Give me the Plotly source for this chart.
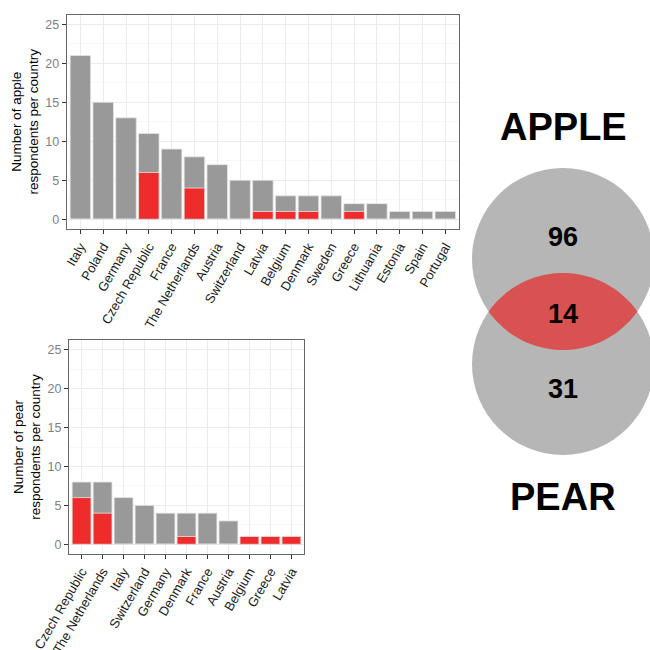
import numpy as np
import plotly.graph_objects as go

# ---------------- data ----------------
apple_countries = ["Italy", "Poland", "Germany", "Czech Republic", "France", "The Netherlands",
                   "Austria", "Switzerland", "Latvia", "Belgium", "Denmark", "Sweden", "Greece",
                   "Lithuania", "Estonia", "Spain", "Portugal"]
apple_total = [21, 15, 13, 11, 9, 8, 7, 5, 5, 3, 3, 3, 2, 2, 1, 1, 1]
apple_both = [0, 0, 0, 6, 0, 4, 0, 0, 1, 1, 1, 0, 1, 0, 0, 0, 0]

pear_countries = ["Czech Republic", "The Netherlands", "Italy", "Switzerland", "Germany",
                  "Denmark", "France", "Austria", "Belgium", "Greece", "Latvia"]
pear_total = [8, 8, 6, 5, 4, 4, 4, 3, 1, 1, 1]
pear_both = [6, 4, 0, 0, 0, 1, 0, 0, 1, 1, 1]

venn_labels = ["APPLE", "PEAR"]
venn_counts = [96, 14, 31]  # apple only, both, pear only
y_ticks = [0, 5, 10, 15, 20, 25]

GREY = "#999999"
RED = "#EE2C2C"
FONT = "Arial, Liberation Sans, sans-serif"
W = H = 650

def px(x):
    return x / W

def py(y):
    return 1 - y / H

fig = go.Figure()

bar_line = dict(color="#e6e6e6", width=0.8)
fig.add_trace(go.Bar(x=apple_countries, y=apple_total, marker=dict(color=GREY, line=bar_line),
                     width=0.9, xaxis="x", yaxis="y", showlegend=False))
fig.add_trace(go.Bar(x=apple_countries, y=apple_both, marker=dict(color=RED, line=bar_line),
                     width=0.9, xaxis="x", yaxis="y", showlegend=False))
fig.add_trace(go.Bar(x=pear_countries, y=pear_total, marker=dict(color=GREY, line=bar_line),
                     width=0.9, xaxis="x2", yaxis="y2", showlegend=False))
fig.add_trace(go.Bar(x=pear_countries, y=pear_both, marker=dict(color=RED, line=bar_line),
                     width=0.9, xaxis="x2", yaxis="y2", showlegend=False))

def xaxis(dom, n, anchor):
    return dict(domain=dom, anchor=anchor, type="category", range=[-0.6, n - 0.4],
                showgrid=True, gridcolor="#ebebeb", gridwidth=1,
                tickangle=-60, tickfont=dict(size=13, color="#1a1a1a", family=FONT),
                ticks="outside", ticklen=4, tickcolor="#333333", tickwidth=1,
                showline=True, linecolor="#666666", linewidth=1, mirror=True,
                zeroline=False, automargin=False, fixedrange=True)

def yaxis(dom, anchor, title):
    return dict(domain=dom, anchor=anchor, range=[-1.25, 26.25], tickvals=y_ticks,
                showgrid=True, gridcolor="#ebebeb", gridwidth=1,
                minor=dict(tick0=2.5, dtick=5, showgrid=True, gridcolor="#f3f3f3", gridwidth=0.6),
                tickfont=dict(size=12.5, color="#7f7f7f", family=FONT),
                ticks="outside", ticklen=4, tickcolor="#333333", tickwidth=1,
                showline=True, linecolor="#666666", linewidth=1, mirror=True,
                zeroline=False, automargin=False, fixedrange=True,
                title=dict(text=title, font=dict(size=13.5, color="#000000", family=FONT), standoff=3))

fig.update_layout(
    width=W, height=H, margin=dict(l=0, r=0, t=0, b=0),
    paper_bgcolor="white", plot_bgcolor="white",
    barmode="overlay", bargap=0.1,
    font=dict(family=FONT),
    xaxis=xaxis([px(66.7), px(459)], len(apple_countries), "y"),
    yaxis=yaxis([py(229), py(14.5)], "x", "Number of apple<br>respondents per country"),
    xaxis2=xaxis([px(69), px(304)], len(pear_countries), "y2"),
    yaxis2=yaxis([py(554), py(340)], "x2", "Number of pear<br>respondents per country"),
)

# ---------------- Venn ----------------
cx, cy1, cy2, r = 563.0, 259.0, 364.0, 91.0
shapes = []
for cyy in (cy1, cy2):
    shapes.append(dict(type="circle", xref="paper", yref="paper",
                       x0=px(cx - r), x1=px(cx + r), y0=py(cyy + r), y1=py(cyy - r),
                       fillcolor="#b6b6b6", line=dict(width=0), layer="above"))

# lens of intersection (upper arc from lower circle, lower arc from upper circle)
hm = (cy1 + cy2) / 2
pts = []
ang_up = np.linspace(np.pi + np.arcsin((cy2 - hm) / r), 2 * np.pi - np.arcsin((cy2 - hm) / r), 60)
for a in ang_up:
    pts.append((cx + r * np.cos(a), cy2 + r * np.sin(a)))
ang_lo = np.linspace(np.arcsin((hm - cy1) / r), np.pi - np.arcsin((hm - cy1) / r), 60)
for a in ang_lo:
    pts.append((cx + r * np.cos(a), cy1 + r * np.sin(a)))
path = "M " + " L ".join(f"{px(x):.5f},{py(y):.5f}" for x, y in pts) + " Z"
shapes.append(dict(type="path", xref="paper", yref="paper", path=path,
                   fillcolor="#d95252", line=dict(width=0), layer="above"))
fig.update_layout(shapes=shapes)

annots = [
    (venn_labels[0], 563, 127, 38),
    (str(venn_counts[0]), 563, 237, 27),
    (str(venn_counts[1]), 563, 314, 27),
    (str(venn_counts[2]), 563, 389, 27),
    (venn_labels[1], 563, 497, 38),
]
for txt, x, y, s in annots:
    fig.add_annotation(text=f"<b>{txt}</b>", x=px(x), y=py(y), xref="paper", yref="paper",
                       showarrow=False, xanchor="center", yanchor="middle",
                       font=dict(size=s, color="black", family=FONT))

fig.write_html("out.html", config={"displayModeBar": False, "staticPlot": True},
               post_script="document.body.style.margin='0';document.body.style.overflow='hidden';")
